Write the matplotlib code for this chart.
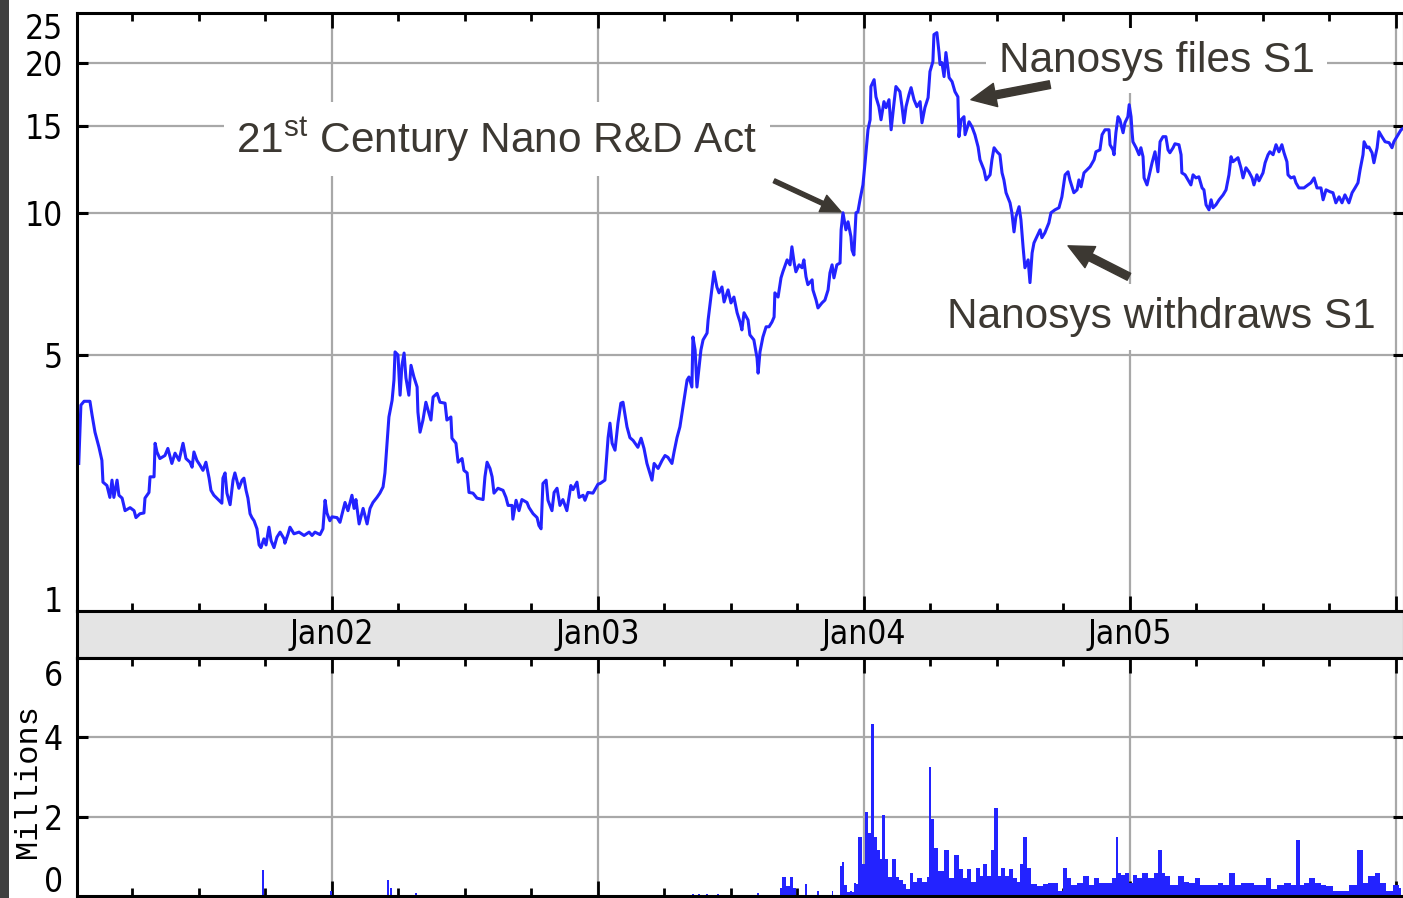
import numpy as np
import matplotlib

matplotlib.use("Agg")
import matplotlib.pyplot as plt
import matplotlib.transforms as mtransforms
from matplotlib.patches import Rectangle

# ---- données (date en année décimale, cours en $) ----
price_2001 = [
    (2001.048, 2.76), (2001.056, 3.83), (2001.068, 3.91), (2001.090, 3.91), (2001.098, 3.63),
    (2001.109, 3.30), (2001.124, 3.03), (2001.135, 2.81), (2001.139, 2.47), (2001.154, 2.42),
    (2001.165, 2.25), (2001.173, 2.50), (2001.180, 2.25), (2001.192, 2.50), (2001.199, 2.28),
    (2001.211, 2.24), (2001.222, 2.07), (2001.241, 2.11), (2001.256, 2.07), (2001.263, 1.98),
    (2001.278, 2.03), (2001.293, 2.04), (2001.297, 2.24), (2001.312, 2.32), (2001.316, 2.55),
    (2001.331, 2.55), (2001.335, 3.10), (2001.342, 2.95), (2001.353, 2.84), (2001.372, 2.89),
    (2001.383, 3.01), (2001.398, 2.76), (2001.410, 2.93), (2001.425, 2.81), (2001.440, 3.10),
    (2001.451, 2.84), (2001.466, 2.78), (2001.474, 2.70), (2001.481, 2.95), (2001.492, 2.81),
    (2001.504, 2.73), (2001.515, 2.65), (2001.526, 2.78), (2001.538, 2.53), (2001.545, 2.35),
    (2001.556, 2.28), (2001.575, 2.21), (2001.586, 2.17), (2001.590, 2.53), (2001.598, 2.61),
    (2001.605, 2.31), (2001.617, 2.15), (2001.628, 2.50), (2001.635, 2.61), (2001.650, 2.38),
    (2001.662, 2.50), (2001.669, 2.53), (2001.677, 2.35), (2001.684, 2.24), (2001.692, 2.03),
    (2001.699, 1.98), (2001.707, 1.94), (2001.718, 1.84), (2001.726, 1.65), (2001.733, 1.62),
    (2001.744, 1.72), (2001.752, 1.65), (2001.763, 1.86), (2001.771, 1.70), (2001.782, 1.62),
    (2001.793, 1.74), (2001.805, 1.80), (2001.820, 1.72), (2001.823, 1.67), (2001.835, 1.78),
    (2001.842, 1.86), (2001.857, 1.78), (2001.876, 1.80), (2001.895, 1.76), (2001.914, 1.80),
    (2001.925, 1.76), (2001.936, 1.80), (2001.955, 1.77), (2001.966, 1.84), (2001.974, 2.21),
    (2001.981, 2.04), (2001.992, 1.94),
]
price_2002 = [
    (2002.000, 1.99), (2002.019, 1.98), (2002.030, 1.92), (2002.049, 2.18), (2002.060, 2.07),
    (2002.075, 2.28), (2002.083, 2.10), (2002.090, 2.22), (2002.102, 1.90), (2002.117, 2.10),
    (2002.132, 1.90), (2002.143, 2.10), (2002.154, 2.18), (2002.169, 2.25), (2002.180, 2.31),
    (2002.192, 2.40), (2002.199, 2.61), (2002.207, 3.10), (2002.214, 3.59), (2002.226, 3.93),
    (2002.233, 4.38), (2002.237, 5.07), (2002.248, 4.99), (2002.256, 4.04), (2002.263, 4.73),
    (2002.271, 5.04), (2002.278, 4.43), (2002.289, 4.04), (2002.297, 4.73), (2002.308, 4.45),
    (2002.320, 4.22), (2002.323, 3.69), (2002.331, 3.30), (2002.342, 3.53), (2002.353, 3.89),
    (2002.361, 3.73), (2002.372, 3.53), (2002.380, 4.00), (2002.395, 4.08), (2002.406, 3.89),
    (2002.425, 3.87), (2002.432, 3.53), (2002.447, 3.59), (2002.451, 3.19), (2002.466, 3.10),
    (2002.474, 2.78), (2002.489, 2.84), (2002.496, 2.65), (2002.508, 2.61), (2002.515, 2.32),
    (2002.530, 2.31), (2002.545, 2.24), (2002.568, 2.22), (2002.575, 2.55), (2002.583, 2.78),
    (2002.594, 2.68), (2002.602, 2.55), (2002.609, 2.31), (2002.624, 2.38), (2002.643, 2.35),
    (2002.654, 2.25), (2002.662, 2.14), (2002.677, 2.14), (2002.680, 1.96), (2002.692, 2.21),
    (2002.703, 2.07), (2002.714, 2.22), (2002.733, 2.18), (2002.741, 2.11), (2002.756, 2.03),
    (2002.771, 1.98), (2002.778, 1.88), (2002.786, 1.84), (2002.793, 2.45), (2002.805, 2.50),
    (2002.812, 2.21), (2002.827, 2.07), (2002.835, 2.32), (2002.846, 2.38), (2002.857, 2.14),
    (2002.868, 2.22), (2002.883, 2.07), (2002.898, 2.42), (2002.906, 2.36), (2002.921, 2.47),
    (2002.929, 2.25), (2002.944, 2.28), (2002.951, 2.21), (2002.962, 2.32), (2002.981, 2.31),
]
price_2003 = [
    (2003.000, 2.44), (2003.008, 2.45), (2003.026, 2.50), (2003.038, 3.20), (2003.045, 3.47),
    (2003.053, 3.10), (2003.064, 2.98), (2003.075, 3.47), (2003.086, 3.87), (2003.094, 3.89),
    (2003.109, 3.40), (2003.120, 3.20), (2003.132, 3.15), (2003.150, 3.03), (2003.162, 3.19),
    (2003.173, 3.01), (2003.184, 2.76), (2003.195, 2.61), (2003.203, 2.50), (2003.211, 2.76),
    (2003.226, 2.68), (2003.241, 2.81), (2003.252, 2.89), (2003.263, 2.86), (2003.278, 2.76),
    (2003.286, 2.95), (2003.297, 3.20), (2003.308, 3.40), (2003.316, 3.67), (2003.327, 4.08),
    (2003.335, 4.38), (2003.342, 4.45), (2003.353, 4.22), (2003.357, 5.47), (2003.365, 5.12),
    (2003.372, 4.22), (2003.380, 4.68), (2003.387, 5.12), (2003.395, 5.39), (2003.410, 5.58),
    (2003.414, 5.96), (2003.429, 7.02), (2003.436, 7.56), (2003.447, 7.02), (2003.455, 6.82),
    (2003.466, 7.02), (2003.474, 6.52), (2003.489, 6.92), (2003.500, 6.49), (2003.511, 6.68),
    (2003.523, 6.18), (2003.534, 5.90), (2003.541, 5.67), (2003.549, 6.18), (2003.564, 5.96),
    (2003.571, 5.53), (2003.586, 5.39), (2003.598, 4.91), (2003.602, 4.54), (2003.609, 5.07),
    (2003.620, 5.47), (2003.632, 5.76), (2003.643, 5.76), (2003.654, 5.90), (2003.662, 6.05),
    (2003.665, 6.82), (2003.677, 6.68), (2003.688, 7.34), (2003.695, 7.56), (2003.711, 8.01),
    (2003.722, 7.82), (2003.729, 8.53), (2003.737, 7.93), (2003.744, 7.56), (2003.756, 7.82),
    (2003.767, 7.71), (2003.774, 8.01), (2003.782, 7.38), (2003.789, 7.10), (2003.805, 7.27),
    (2003.808, 6.92), (2003.820, 6.58), (2003.827, 6.33), (2003.842, 6.49), (2003.853, 6.58),
    (2003.865, 6.92), (2003.872, 7.52), (2003.880, 7.82), (2003.887, 7.34), (2003.898, 7.82),
    (2003.910, 7.89), (2003.914, 9.25), (2003.921, 10.03), (2003.932, 9.25), (2003.940, 9.61),
    (2003.951, 8.95), (2003.955, 8.40), (2003.962, 8.20), (2003.970, 10.03), (2003.977, 10.07),
    (2003.985, 10.66), (2003.996, 11.43),
]
price_2004 = [
    (2004.004, 12.67), (2004.015, 14.75), (2004.023, 15.44), (2004.026, 17.96), (2004.038, 18.53),
    (2004.045, 17.14), (2004.056, 16.39), (2004.064, 15.44), (2004.075, 16.77), (2004.083, 16.32),
    (2004.094, 16.92), (2004.102, 14.75), (2004.113, 16.69), (2004.120, 17.96), (2004.135, 17.55),
    (2004.143, 16.39), (2004.150, 15.23), (2004.158, 16.39), (2004.169, 17.31), (2004.177, 17.87),
    (2004.188, 16.92), (2004.199, 16.39), (2004.211, 16.77), (2004.218, 15.23), (2004.229, 16.32),
    (2004.241, 17.08), (2004.248, 19.22), (2004.259, 20.10), (2004.263, 22.70), (2004.274, 22.90),
    (2004.282, 20.94), (2004.286, 19.84), (2004.293, 20.01), (2004.301, 18.79), (2004.308, 20.94),
    (2004.320, 18.70), (2004.331, 18.37), (2004.342, 17.55), (2004.353, 17.14), (2004.357, 14.29),
    (2004.365, 15.44), (2004.376, 15.66), (2004.380, 14.42), (2004.395, 15.30), (2004.406, 14.95),
    (2004.417, 14.42), (2004.429, 13.63), (2004.436, 12.85), (2004.451, 12.26), (2004.459, 11.70),
    (2004.474, 11.98), (2004.481, 12.85), (2004.489, 13.58), (2004.500, 13.33), (2004.511, 13.15),
    (2004.519, 12.09), (2004.526, 11.70), (2004.534, 11.02), (2004.549, 10.51), (2004.556, 10.03),
    (2004.564, 9.16), (2004.571, 9.84), (2004.583, 10.32), (2004.590, 9.70), (2004.598, 8.53),
    (2004.605, 7.71), (2004.617, 8.01), (2004.624, 7.17), (2004.632, 8.28), (2004.639, 8.69),
    (2004.650, 8.95), (2004.662, 9.25), (2004.669, 8.91), (2004.680, 9.12), (2004.695, 9.56),
    (2004.703, 10.03), (2004.718, 10.17), (2004.733, 10.27), (2004.744, 10.81), (2004.756, 11.98),
    (2004.767, 12.15), (2004.774, 11.70), (2004.789, 11.02), (2004.801, 11.17), (2004.808, 11.70),
    (2004.816, 11.33), (2004.827, 12.09), (2004.838, 12.26), (2004.850, 12.44), (2004.865, 12.85),
    (2004.872, 13.33), (2004.887, 13.45), (2004.895, 14.42), (2004.906, 14.75), (2004.921, 14.75),
    (2004.925, 13.77), (2004.936, 13.45), (2004.940, 13.15), (2004.947, 14.55), (2004.955, 15.66),
    (2004.962, 15.44), (2004.974, 14.55), (2004.981, 15.23), (2004.992, 15.66), (2004.997, 16.54),
]
price_2005 = [
    (2005.004, 15.66), (2005.008, 14.55), (2005.011, 13.96), (2005.023, 13.58), (2005.034, 13.15),
    (2005.041, 13.58), (2005.049, 13.03), (2005.053, 11.81), (2005.064, 11.43), (2005.071, 11.87),
    (2005.083, 12.67), (2005.094, 13.33), (2005.105, 12.15), (2005.113, 13.96), (2005.124, 14.29),
    (2005.135, 14.29), (2005.143, 13.45), (2005.150, 13.27), (2005.162, 13.58), (2005.169, 13.83),
    (2005.184, 13.77), (2005.192, 13.15), (2005.195, 12.09), (2005.207, 11.98), (2005.218, 11.70),
    (2005.229, 11.43), (2005.237, 11.98), (2005.248, 11.81), (2005.259, 11.87), (2005.271, 11.27),
    (2005.278, 11.17), (2005.286, 10.41), (2005.297, 10.17), (2005.305, 10.66), (2005.312, 10.27),
    (2005.323, 10.41), (2005.335, 10.66), (2005.350, 10.91), (2005.361, 11.17), (2005.372, 11.98),
    (2005.380, 13.03), (2005.387, 12.73), (2005.406, 12.97), (2005.417, 12.38), (2005.425, 11.81),
    (2005.436, 12.38), (2005.447, 12.15), (2005.459, 11.81), (2005.466, 11.43), (2005.477, 11.98),
    (2005.485, 11.65), (2005.500, 12.09), (2005.508, 12.67), (2005.519, 13.15), (2005.526, 13.33),
    (2005.538, 13.15), (2005.549, 13.77), (2005.560, 13.33), (2005.571, 13.77), (2005.579, 13.27),
    (2005.590, 12.73), (2005.594, 11.98), (2005.605, 11.81), (2005.617, 11.87), (2005.624, 11.54),
    (2005.635, 11.27), (2005.654, 11.27), (2005.669, 11.43), (2005.680, 11.54), (2005.692, 11.81),
    (2005.703, 11.27), (2005.718, 11.27), (2005.726, 10.66), (2005.737, 11.17), (2005.752, 11.07),
    (2005.763, 11.02), (2005.774, 10.51), (2005.786, 10.81), (2005.797, 10.51), (2005.808, 10.91),
    (2005.823, 10.51), (2005.835, 11.02), (2005.846, 11.27), (2005.857, 11.54), (2005.865, 12.26),
    (2005.876, 13.15), (2005.880, 13.96), (2005.891, 13.58), (2005.898, 13.63), (2005.910, 13.27),
    (2005.917, 12.67), (2005.929, 13.58), (2005.936, 14.62), (2005.947, 14.29), (2005.959, 13.96),
    (2005.974, 13.90), (2005.985, 13.58), (2005.992, 13.96), (2006.008, 14.42), (2006.019, 14.75),
    (2006.030, 14.88),
]

# volume (millions de titres) : quelques barres isolées, puis une activité continue
volume_sparse = [
    (2001.045, 0.12), (2001.741, 0.66), (2001.996, 0.12), (2002.211, 0.40), (2002.222, 0.20),
    (2002.316, 0.08), (2003.357, 0.06), (2003.380, 0.05), (2003.410, 0.06), (2003.450, 0.05),
    (2003.600, 0.08),
]
volume_dense = [
    (2003.684, 0.20), (2003.699, 0.48), (2003.714, 0.25), (2003.726, 0.48), (2003.741, 0.20),
    (2003.748, 0.0), (2003.778, 0.0), (2003.782, 0.30), (2003.789, 0.0), (2003.823, 0.0),
    (2003.827, 0.13), (2003.835, 0.0), (2003.876, 0.0), (2003.880, 0.13), (2003.887, 0.0),
    (2003.906, 0.0), (2003.910, 0.76), (2003.921, 0.86), (2003.932, 0.28), (2003.944, 0.10),
    (2003.951, 0.13), (2003.959, 0.10), (2003.966, 0.33), (2003.974, 0.30), (2003.983, 1.50),
    (2004.000, 0.80), (2004.011, 2.13), (2004.019, 1.59), (2004.034, 4.33), (2004.045, 1.50),
    (2004.053, 1.16), (2004.064, 0.94), (2004.075, 2.05), (2004.086, 0.94), (2004.094, 0.48),
    (2004.117, 0.94), (2004.124, 0.48), (2004.139, 0.40), (2004.154, 0.30), (2004.165, 0.18),
    (2004.180, 0.58), (2004.192, 0.36), (2004.207, 0.45), (2004.229, 0.36), (2004.244, 0.48),
    (2004.248, 3.24), (2004.259, 1.95), (2004.271, 1.22), (2004.289, 0.62), (2004.312, 1.16),
    (2004.327, 0.45), (2004.353, 1.04), (2004.365, 0.68), (2004.380, 0.45), (2004.395, 0.67),
    (2004.410, 0.36), (2004.429, 0.70), (2004.440, 0.50), (2004.455, 0.80), (2004.470, 0.50),
    (2004.485, 1.16), (2004.496, 2.23), (2004.508, 0.50), (2004.523, 0.70), (2004.538, 0.50),
    (2004.553, 0.68), (2004.568, 0.45), (2004.579, 0.36), (2004.594, 0.80), (2004.602, 1.50),
    (2004.620, 0.70), (2004.639, 0.30), (2004.662, 0.25), (2004.684, 0.30), (2004.703, 0.33),
    (2004.722, 0.33), (2004.737, 0.13), (2004.756, 0.70), (2004.767, 0.45), (2004.789, 0.28),
    (2004.812, 0.33), (2004.838, 0.50), (2004.857, 0.28), (2004.872, 0.45), (2004.895, 0.33),
    (2004.917, 0.33), (2004.944, 0.45), (2004.951, 1.50), (2004.962, 0.58), (2004.974, 0.52),
    (2004.992, 0.58), (2005.004, 0.33), (2005.015, 0.52), (2005.034, 0.45), (2005.056, 0.58),
    (2005.079, 0.45), (2005.098, 0.58), (2005.113, 1.16), (2005.124, 0.58), (2005.139, 0.50),
    (2005.165, 0.28), (2005.195, 0.50), (2005.211, 0.36), (2005.233, 0.33), (2005.256, 0.45),
    (2005.274, 0.28), (2005.301, 0.28), (2005.323, 0.28), (2005.338, 0.33), (2005.361, 0.28),
    (2005.383, 0.58), (2005.406, 0.28), (2005.429, 0.33), (2005.455, 0.33), (2005.477, 0.28),
    (2005.504, 0.28), (2005.519, 0.45), (2005.541, 0.18), (2005.564, 0.28), (2005.594, 0.33),
    (2005.617, 0.28), (2005.632, 1.40), (2005.647, 0.28), (2005.662, 0.33), (2005.684, 0.45),
    (2005.707, 0.33), (2005.729, 0.28), (2005.748, 0.25), (2005.778, 0.13), (2005.808, 0.13),
    (2005.838, 0.28), (2005.868, 1.16), (2005.883, 0.33), (2005.910, 0.50), (2005.932, 0.58),
    (2005.951, 0.33), (2005.974, 0.13), (2006.004, 0.28), (2006.019, 0.20),
]

price_ticks = [5, 10, 15, 20]
price_edges = [(1, 6), (25, -12)]       # étiquettes posées au bord de l'axe (valeur, décalage pt)
volume_ticks = [2, 4]
volume_edges = [(0, 10), (6, -13)]
years = [2002, 2003, 2004, 2005]

# (texte, position du texte, pointe de la flèche, départ de la flèche)
events = [
    (r"21$^{\mathrm{st}}$ Century Nano R&D Act", (2002.620, 13.27), (2003.914, 10.07), (2003.662, 11.65)),
    ("Nanosys files S1", (2005.100, 19.22), (2004.402, 16.92), (2004.699, 18.12)),
    ("Nanosys withdraws S1", (2005.118, 5.73), (2004.767, 8.57), (2004.996, 7.38)),
]

BLUE = "#2323ff"
GRID = "#a8a8a8"
NOTE = "#3c3832"
XMIN, XMAX = 2001.0414, 2006.0301
TICK_SIZE = 24

plt.rcParams["font.family"] = ["DejaVu Sans"]
plt.rcParams["font.stretch"] = "condensed"
plt.rcParams["mathtext.fontset"] = "custom"
plt.rcParams["mathtext.rm"] = "Liberation Sans"
NOTE_FONT = ["Liberation Sans", "DejaVu Sans"]

W, H = 1403, 898
fig = plt.figure(figsize=(W / 100, H / 100), dpi=100)
fig.patch.set_facecolor("white")


def box(top, bottom, left=77, right=1404):
    return fig.add_axes([left / W, 1 - bottom / H, (right - left) / W, (bottom - top) / H])


axp = box(13, 610.5)
axb = box(610.5, 658)
axv = box(658, 896)

fwd = lambda v: np.log1p(np.clip(v, -0.999, None))
inv = lambda u: np.expm1(u)
axp.set_yscale("function", functions=(fwd, inv))

t, p = zip(*(price_2001 + price_2002 + price_2003 + price_2004 + price_2005))
axp.plot(t, p, color=BLUE, lw=2.2, zorder=3)

ts, vs = zip(*volume_sparse)
axv.bar(ts, vs, width=0.008, color=BLUE, lw=0, zorder=3)
td, vd = zip(*volume_dense)
axv.fill_between(td, vd, step="mid", color=BLUE, lw=0, zorder=3)

for ax in (axp, axb, axv):
    ax.set_xlim(XMIN, XMAX)
    for s in ax.spines.values():
        s.set_linewidth(2.2)
        s.set_zorder(5)

axp.set_ylim(1, 25)
axv.set_ylim(0, 6)
axb.set_facecolor("#e4e4e4")
axb.set_xticks([]); axb.set_yticks([])

for ax, ticks, edges in ((axp, price_ticks, price_edges), (axv, volume_ticks, volume_edges)):
    ax.set_xticks(years + [2006])
    ax.set_xticks(np.arange(2001.25, 2006.0, 0.25), minor=True)
    ax.set_yticks(ticks)
    ax.set_yticklabels([str(v) for v in ticks])
    ax.yaxis.set_minor_locator(matplotlib.ticker.NullLocator())
    ax.grid(True, which="major", color=GRID, lw=1.6, zorder=1)
    ax.set_axisbelow(True)
    ax.tick_params(axis="x", which="major", direction="in", top=True, bottom=True,
                   length=11, width=2, labelbottom=False)
    ax.tick_params(axis="x", which="minor", direction="in", top=True, bottom=True,
                   length=6, width=2)
    ax.tick_params(axis="y", which="major", direction="in", left=True, right=True,
                   length=8, width=2.2, labelsize=TICK_SIZE, pad=10)
    for val, dy in edges:
        ax.annotate(str(val), xy=(0, val), xycoords=("axes fraction", "data"),
                    xytext=(-10, dy), textcoords="offset points", ha="right", va="center",
                    fontsize=TICK_SIZE, annotation_clip=False)

for yr in years:
    axb.text(yr, 0.5, f"Jan{yr % 100:02d}", transform=mtransforms.blended_transform_factory(
        axb.transData, axb.transAxes), ha="center", va="center", fontsize=TICK_SIZE)

fig.text(28 / W, 1 - 781 / H, "Millions", rotation=90, ha="center", va="center",
         fontsize=23, family=["Liberation Mono", "DejaVu Sans Mono"])

fig.add_artist(Rectangle((0, 0), 9 / W, 1, transform=fig.transFigure,
                         facecolor="#404040", edgecolor="none"))

styles = ["simple,head_length=0.72,head_width=0.65,tail_width=0.15",
          "simple,head_length=0.9,head_width=0.85,tail_width=0.28",
          "simple,head_length=0.9,head_width=0.85,tail_width=0.28"]
for (label, xy_text, tip, tail), st in zip(events, styles):
    axp.text(*xy_text, label, ha="center", va="baseline", fontsize=30.5, color=NOTE,
             family=NOTE_FONT, zorder=4,
             bbox=dict(boxstyle="square,pad=0.3", fc="white", ec="none"))
    axp.annotate("", xy=tip, xytext=tail, zorder=6,
                 arrowprops=dict(arrowstyle=st, mutation_scale=20, color=NOTE,
                                 shrinkA=0, shrinkB=0))

fig.savefig("out.png", dpi=100)
